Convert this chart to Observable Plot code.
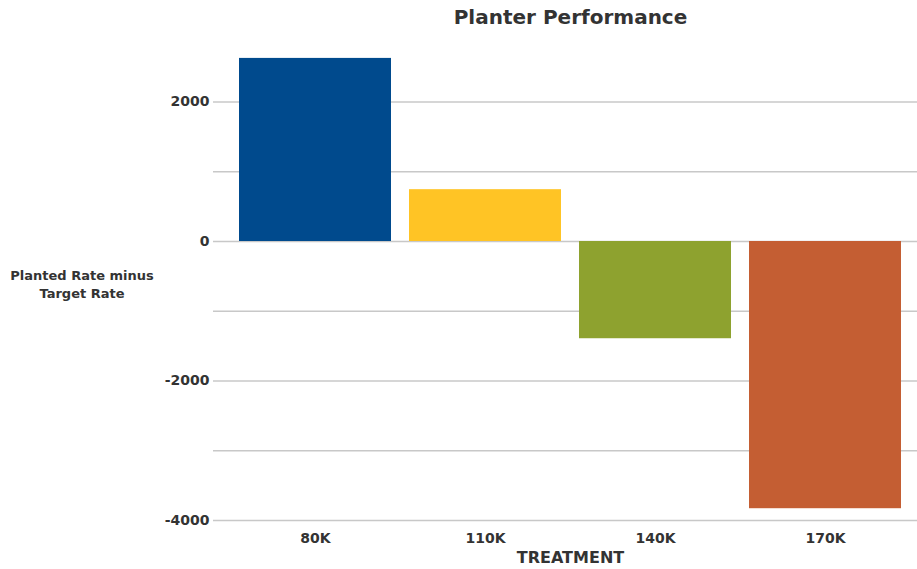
<!DOCTYPE html>
<html>
<head>
<meta charset="utf-8">
<script src="https://cdn.jsdelivr.net/npm/d3@7"></script>
<script src="https://cdn.jsdelivr.net/npm/@observablehq/plot@0.6"></script>
<style>
  body { margin: 0; background: #fff; }
  svg { display: block; }
</style>
</head>
<body>
<div id="chart"></div>
<script>
const treatments = ["80K", "110K", "140K", "170K"];
const values = [2625, 743, -1394, -3831];
const colors = ["#004a8d", "#ffc425", "#8ea22f", "#c45e33"];
const yTicks = [2000, 0, -2000, -4000];
const gridTicks = [2000, 1000, 0, -1000, -2000, -3000, -4000];
const titleText = "Planter Performance";
const yLabelText = "Planted Rate minus\nTarget Rate";
const xLabelText = "TREATMENT";

const data = treatments.map((t, i) => ({treatment: t, value: values[i]}));
const font = "DejaVu Sans, sans-serif";

const chart = Plot.plot({
  width: 917,
  height: 569,
  marginLeft: 213,
  marginRight: 0,
  marginTop: 44,
  marginBottom: 47,
  style: {fontFamily: font, fontWeight: "bold", color: "#333", background: "#fff"},
  x: {domain: treatments, range: [230, 910], paddingInner: 18/170, paddingOuter: 9/170, label: null},
  y: {domain: [-4000, 2000], range: [520, 101.5], label: null},
  color: {domain: treatments, range: colors},
  marks: [
    Plot.ruleY(gridTicks, {stroke: "#c8c8c8", strokeWidth: 1.5}),
    Plot.barY(data, {x: "treatment", y: "value", fill: "treatment"}),
    Plot.axisY({ticks: yTicks, tickSize: 0, tickPadding: 4, tickFormat: d => String(d), fontSize: 14, label: null, fill: "#333"}),
    Plot.axisX({tickSize: 0, tickPadding: 11, fontSize: 14, label: null, fill: "#333"}),
    Plot.text([titleText], {frameAnchor: "top", dx: 5, dy: -27, fontSize: 20, fontWeight: "bold", fill: "#333", lineAnchor: "middle"}),
    Plot.text([yLabelText], {frameAnchor: "left", dx: -131.5, textAnchor: "middle", lineAnchor: "middle", lineHeight: 1.38, fontSize: 13, fontWeight: "bold", fill: "#333"}),
    Plot.text([xLabelText], {frameAnchor: "bottom", dx: 5, dy: 35, fontSize: 16, fontWeight: "bold", fill: "#333", lineAnchor: "middle"})
  ]
});
document.getElementById("chart").appendChild(chart);
</script>
</body>
</html>
